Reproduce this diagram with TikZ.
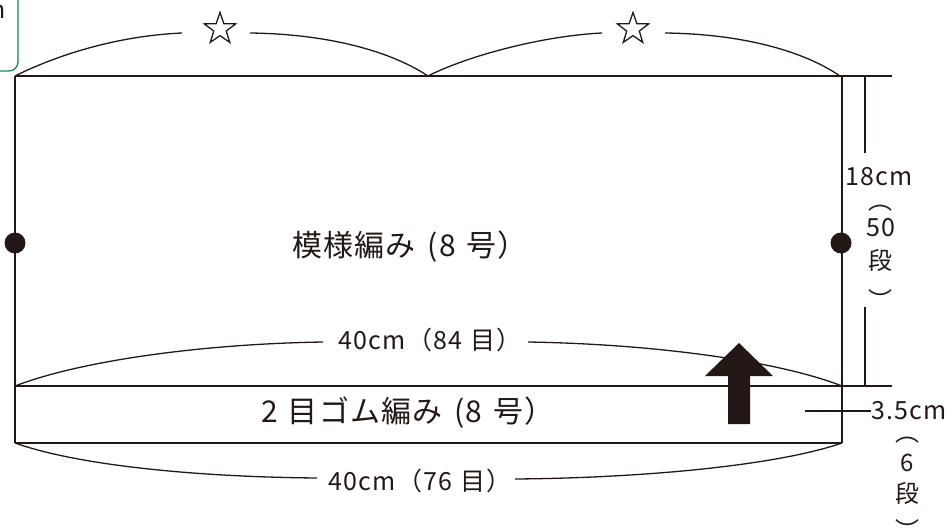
\documentclass[tikz,border=0pt]{standalone}
\usepackage{fontspec}
\setmainfont{Noto Sans CJK JP}
\newfontfamily\dimfont[LetterSpace=5]{Noto Sans CJK JP}
\newfontfamily\labfont[LetterSpace=4]{Noto Sans CJK JP}
\usetikzlibrary{shapes.geometric}
\definecolor{ink}{RGB}{35,24,21}
\definecolor{frameg}{RGB}{30,130,80}
\begin{document}
\begin{tikzpicture}[x=1pt,y=-1pt,
  line/.style={draw=ink,line width=1.3pt},
  dimtxt/.style={text=ink,inner sep=0pt,font=\dimfont\fontsize{25}{29}\selectfont},
  plaintxt/.style={text=ink,inner sep=0pt,font=\fontsize{24}{28}\selectfont},
  labtxt/.style={text=ink,inner sep=0pt,font=\labfont\fontsize{30}{35}\selectfont},
  starmark/.style={star,star points=5,star point ratio=2.5,draw=ink,line width=1.3pt,minimum size=33pt,inner sep=0pt},
  dot/.style={circle,fill=ink,minimum size=21pt,inner sep=0pt}]
\useasboundingbox (0,0) rectangle (948,530);
\clip (0,0) rectangle (948,530);
% green box (partly outside)
\draw[frameg,line width=1.3pt,rounded corners=9pt] (-120,-30) rectangle (18,71);
\node[plaintxt,anchor=base east] (unit) at (5.5,18) {cm};
% corners
\coordinate (tl) at (15,76);
\coordinate (tm) at (428,76);
\coordinate (tr) at (842,76);
\coordinate (tx) at (892,76);
\coordinate (ml) at (15,386);
\coordinate (mr) at (842,386);
\coordinate (mx) at (892,386);
\coordinate (bl) at (15,443);
\coordinate (br) at (842,443);
% rectangles
\draw[line] (tl) -- (tx);
\draw[line] (ml) -- (mx);
\draw[line] (bl) -- (br);
\draw[line] (tl) -- (bl);
\draw[line] (tr) -- (br);
% dots
\node[dot] (dotl) at (15,243) {};
\node[dot] (dotr) at (841,243) {};
% labels
\node[labtxt] (body) at (410,247) {模様編み\hspace{12pt}(8\hspace{11pt}号）};
\node[labtxt] (rib) at (408,413) {2\hspace{10pt}目ゴム編み\hspace{12pt}(8\hspace{11pt}号）};
% stars
\node[starmark] (s1) at (220,29) {};
\node[starmark] (s2) at (633,29) {};
\coordinate (s1l) at (182,33);
\coordinate (s1r) at (250,33);
\coordinate (s2l) at (602,33);
\coordinate (s2r) at (665,33);
\draw[line] (tl) .. controls (55,56) and (115,36) .. (s1l);
\draw[line] (s1r) .. controls (330,34) and (392,52) .. (tm);
\draw[line] (tm) .. controls (465,57) and (540,36) .. (s2l);
\draw[line] (s2r) .. controls (745,34) and (805,52) .. (840,76);
% width dims
\node[dimtxt] (w1) at (430,340) {40cm（84\hspace{8pt}目）};
\coordinate (w1l) at (323,342);
\coordinate (w1r) at (528,342);
\draw[line] (ml) .. controls (80,361) and (200,344) .. (w1l);
\draw[line] (w1r) .. controls (650,344) and (775,360) .. (mr);
\node[dimtxt] (w2) at (420,481) {40cm（76\hspace{8pt}目）};
\coordinate (w2l) at (317,478);
\coordinate (w2r) at (515,479);
\draw[line] (bl) .. controls (80,466) and (200,477) .. (w2l);
\draw[line] (w2r) .. controls (640,478) and (775,466) .. (br);
% height dim (body)
\coordinate (hv1) at (865,76);
\coordinate (hv2) at (865,153);
\coordinate (hv3) at (865,307);
\coordinate (hv4) at (865,386);
\draw[line] (hv1) -- (hv2);
\draw[line] (hv3) -- (hv4);
\node[dimtxt] (h1a) at (879,177) {18cm};
\node[plaintxt] (h1b) at (880,208) {︵};
\node[dimtxt] (h1c) at (881,228) {50};
\node[plaintxt] (h1d) at (880,260) {段};
\node[plaintxt] (h1e) at (880,299) {︶};
% height dim (rib)
\node[dimtxt,anchor=west] (h2a) at (871,411) {3.5cm};
\coordinate (ldr) at (805,411);
\draw[line] (ldr) -- (h2a.west);
\node[plaintxt] (h2b) at (907,440) {︵};
\node[plaintxt] (h2c) at (907,463) {6};
\node[plaintxt] (h2d) at (907,493) {段};
\node[plaintxt] (h2e) at (907,529) {︶};
% knitting direction arrow
\fill[ink] (728,424) -- (728,376) -- (705,376) -- (739,343) -- (773,376) -- (750,376) -- (750,424) -- cycle;
\end{tikzpicture}
\end{document}
